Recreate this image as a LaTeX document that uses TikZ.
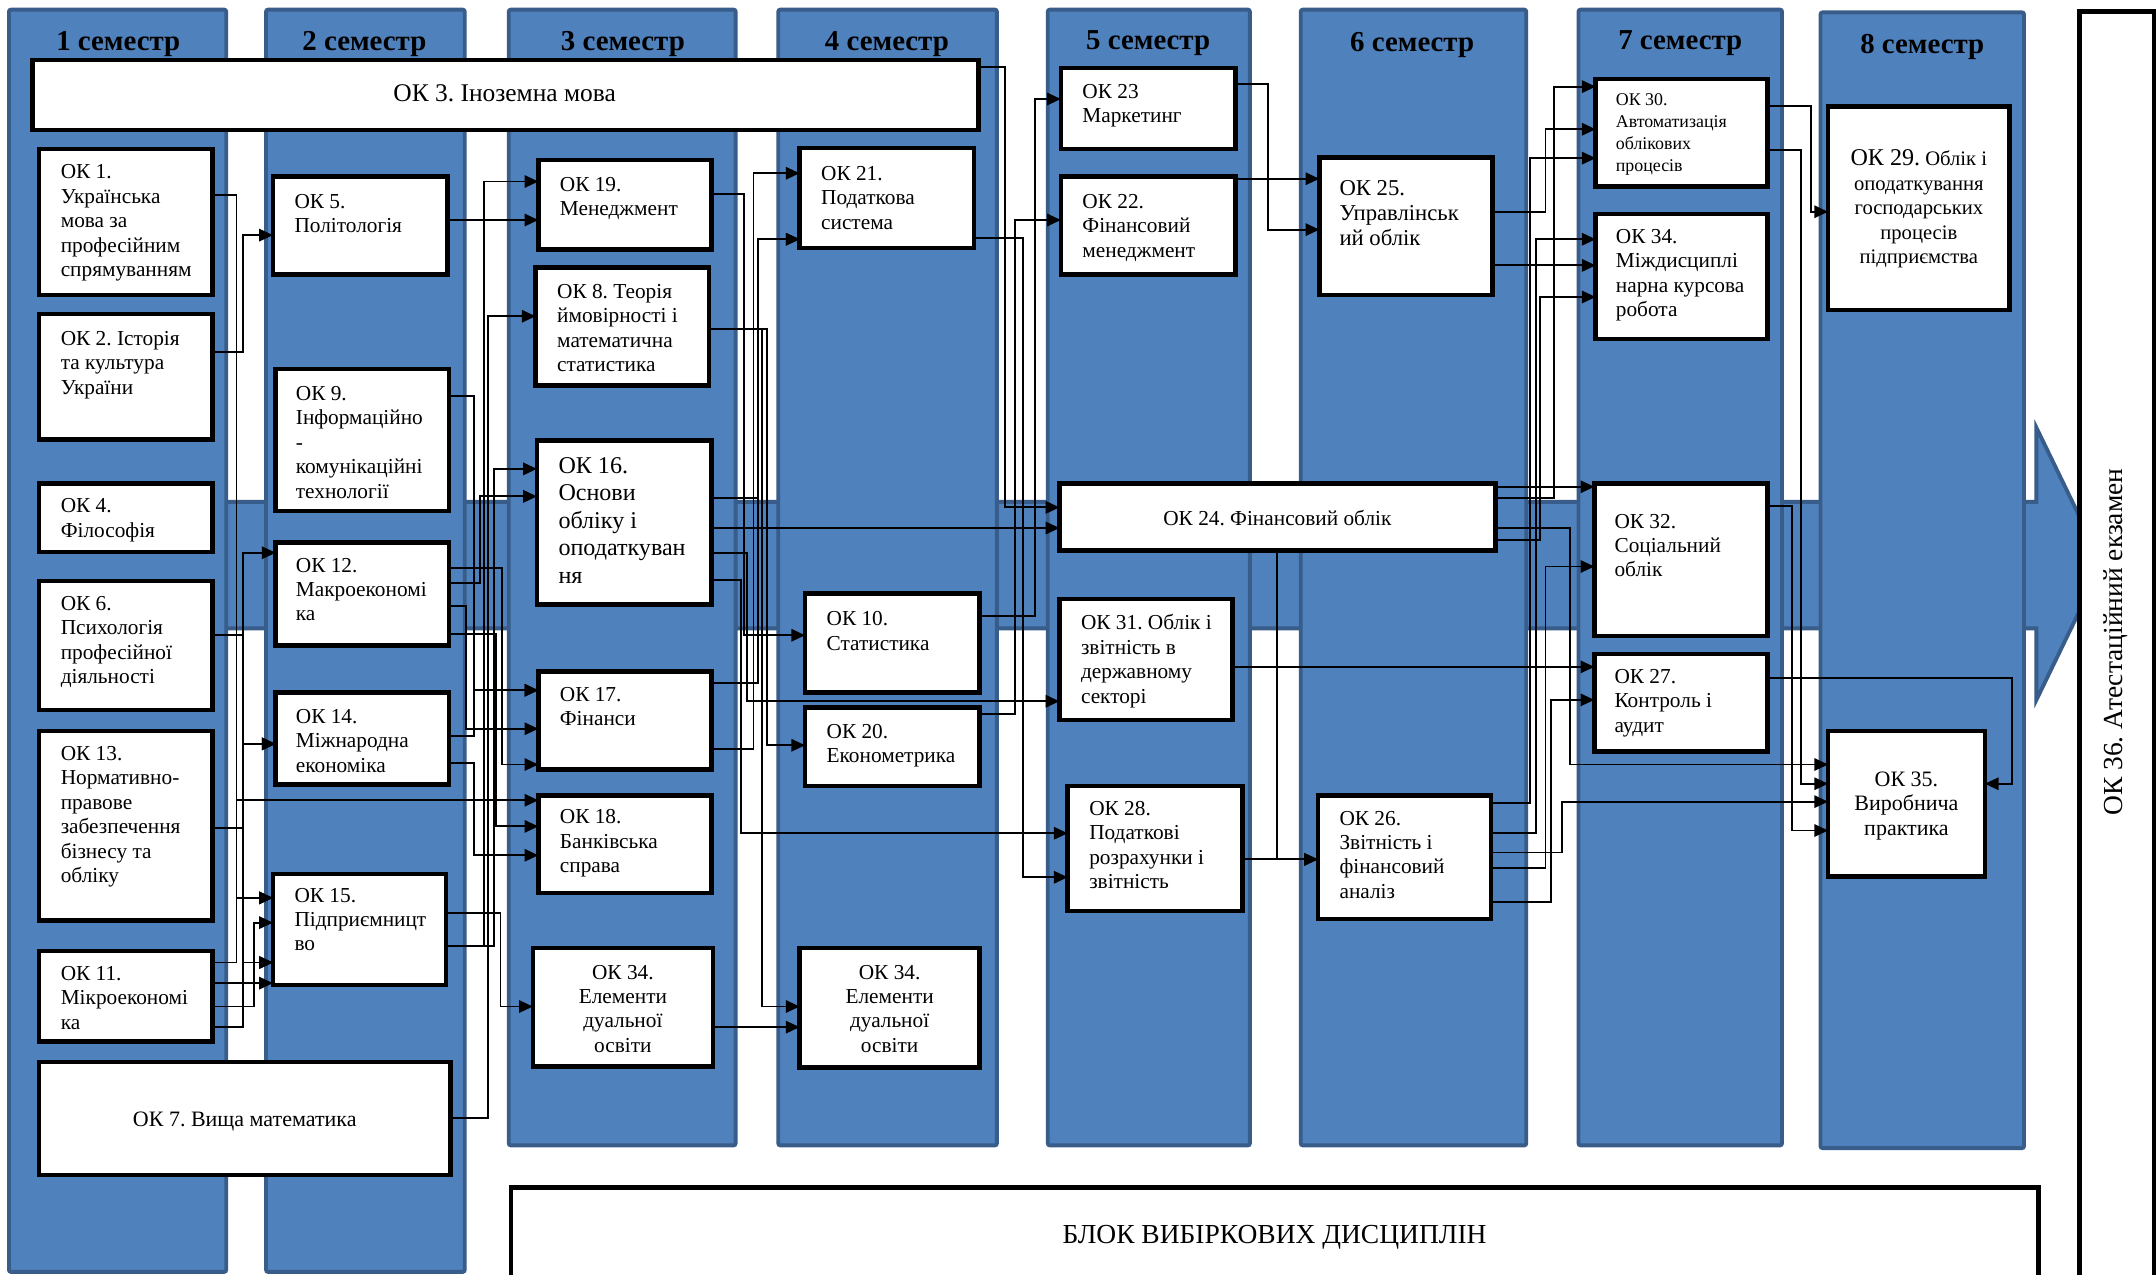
\documentclass[tikz,border=0pt]{standalone}
\usepackage{fontspec}
\setmainfont{Liberation Serif}
\frenchspacing
\usetikzlibrary{arrows.meta}
\definecolor{colfill}{HTML}{4F81BD}
\definecolor{colline}{HTML}{385D8A}
\tikzset{
  col/.style={fill=colfill, draw=colline, line width=2.8pt, rounded corners=1.5pt},
  box/.style={draw=black, fill=white, line width=3.3pt, inner sep=0pt, outer sep=0pt},
  txt/.style={inner sep=0pt, font=\fontsize{15.5}{17.8}\selectfont, anchor=base west},
  ctxt/.style={inner sep=0pt, font=\fontsize{15.5}{17.8}\selectfont, anchor=base},
  hdr/.style={inner sep=0pt, font=\fontsize{21}{24}\selectfont\bfseries, anchor=base},
  conn/.style={line width=1.4pt, draw=black},
  arr/.style={conn, -{Triangle[length=10pt,width=9pt]}},
}
\newcommand{\mkbox}[5]{\node[box, anchor=north west, minimum width={#4-#2}, minimum height={#5-#3}] (#1) at (#2,#3) {};}
\newcommand{\mktxt}[5][]{\node[txt,#1] (#2) at (#3,#4) {\parbox[t]{220pt}{\raggedright #5}};}
\newcommand{\mkctxt}[6][]{\node[ctxt,#1] (#2) at (#3,#4) {\parbox[t]{#5pt}{\centering #6}};}
\begin{document}
\begin{tikzpicture}[x=1pt,y=-1pt]
\useasboundingbox (0,0) rectangle (1568,927);
\fill[white] (0,0) rectangle (1568,927);
% big arrow band
\filldraw[fill=colfill, draw=colline, line width=2.8pt] (7,365) -- (1481,365) -- (1481,311) -- (1529,410) -- (1481,509) -- (1481,457) -- (7,457) -- cycle;
% semester columns
\draw[col] (6.5,7) rectangle (164.5,925);
\draw[col] (193.5,7) rectangle (338,925);
\draw[col] (370,7) rectangle (535,833);
\draw[col] (566,7) rectangle (725,833);
\draw[col] (762,7) rectangle (909,833);
\draw[col] (946,7) rectangle (1110,833);
\draw[col] (1148,7) rectangle (1296,833);
\draw[col] (1324,9) rectangle (1472,835);
% headers
\node[hdr] (h1) at (86,37) {1 семестр};
\node[hdr] (h2) at (265,37) {2 семестр};
\node[hdr] (h3) at (453,37) {3 семестр};
\node[hdr] (h4) at (645,37) {4 семестр};
\node[hdr] (h5) at (835,36) {5 семестр};
\node[hdr] (h6) at (1027,37.5) {6 семестр};
\node[hdr] (h7) at (1222,36) {7 семестр};
\node[hdr] (h8) at (1398,39) {8 семестр};
% boxes
\mkbox{ok3}{23.5}{43.5}{711.5}{94.5}
\node[inner sep=0pt, anchor=base, font=\fontsize{18.5}{20}\selectfont] (ok3t) at (367,74) {ОК 3. Іноземна мова};
\mkbox{ok1}{28.5}{108.5}{154.5}{214.5}
\mktxt{ok1t}{44}{130}{ОК 1.\\Українська\\мова за\\професійним\\спрямуванням}
\mkbox{ok2}{28.5}{228.5}{154.5}{319.5}
\mktxt{ok2t}{44}{251}{ОК 2. Історія\\та культура\\України}
\mkbox{ok4}{28.5}{351.5}{154.5}{401.5}
\mktxt{ok4t}{44}{373}{ОК 4.\\Філософія}
\mkbox{ok6}{28.5}{422.5}{154.5}{516.5}
\mktxt{ok6t}{44}{444}{ОК 6.\\Психологія\\професійної\\діяльності}
\mkbox{ok13}{28.5}{531.5}{154.5}{669.5}
\mktxt{ok13t}{44}{553}{ОК 13.\\Нормативно-\\правове\\забезпечення\\бізнесу та\\обліку}
\mkbox{ok11}{28.5}{691.5}{154.5}{757.5}
\mktxt{ok11t}{44}{713}{ОК 11.\\Мікроекономі\\ка}
\mkbox{ok7}{28.5}{772.5}{327.5}{854.5}
\node[inner sep=0pt, anchor=base, font=\fontsize{16}{18}\selectfont] (ok7t) at (178,819) {ОК 7. Вища математика};
\mkbox{ok5}{198.5}{128.5}{325.5}{199.5}
\mktxt{ok5t}{214}{151.5}{ОК 5.\\Політологія}
\mkbox{ok9}{200.5}{268.5}{326.5}{371.5}
\mktxt{ok9t}{215}{291}{ОК 9.\\Інформаційно\\-\\комунікаційні\\технології}
\mkbox{ok12}{200.5}{394.5}{326.5}{469.5}
\mktxt{ok12t}{215}{416}{ОК 12.\\Макроекономі\\ка}
\mkbox{ok14}{200.5}{503.5}{326.5}{570.5}
\mktxt{ok14t}{215}{526}{ОК 14.\\Міжнародна\\економіка}
\mkbox{ok15}{198.5}{635.5}{324.5}{716.5}
\mktxt{ok15t}{214}{656}{ОК 15.\\Підприємницт\\во}
\mkbox{ok19}{391.5}{116.5}{517.5}{181.5}
\mktxt{ok19t}{407}{139}{ОК 19.\\Менеджмент}
\mkbox{ok8}{389.5}{194.5}{515.5}{280.5}
\mktxt{ok8t}{405}{217}{ОК 8. Теорія\\ймовірності і\\математична\\статистика}
\mkbox{ok16}{390.5}{320.5}{517.5}{439.5}
\mktxt[font=\fontsize{17.5}{20}\selectfont]{ok16t}{406}{344}{ОК 16.\\Основи\\обліку і\\оподаткуван\\ня}
\mkbox{ok17}{391.5}{488.5}{517.5}{559.5}
\mktxt{ok17t}{407}{510}{ОК 17.\\Фінанси}
\mkbox{ok18}{391.5}{578.5}{517.5}{649.5}
\mktxt{ok18t}{407}{599}{ОК 18.\\Банківська\\справа}
\mkbox{ok34a}{387.5}{689.5}{518.5}{775.5}
\mkctxt{ok34at}{453}{712}{130}{ОК 34.\\Елементи\\дуальної\\освіти}
\mkbox{ok21}{581.5}{107.5}{708.5}{180.5}
\mktxt{ok21t}{597}{131}{ОК 21.\\Податкова\\система}
\mkbox{ok10}{585.5}{431.5}{712.5}{503.5}
\mktxt{ok10t}{601}{455}{ОК 10.\\Статистика}
\mkbox{ok20}{585.5}{514.5}{712.5}{571.5}
\mktxt{ok20t}{601}{537}{ОК 20.\\Економетрика}
\mkbox{ok34b}{581.5}{689.5}{712.5}{776.5}
\mkctxt{ok34bt}{647}{712}{130}{ОК 34.\\Елементи\\дуальної\\освіти}
\mkbox{ok23}{771.5}{49.5}{898.5}{108.5}
\mktxt{ok23t}{787}{71.5}{ОК 23\\Маркетинг}
\mkbox{ok22}{771.5}{128.5}{898.5}{199.5}
\mktxt{ok22t}{787}{151.5}{ОК 22.\\Фінансовий\\менеджмент}
\mkbox{ok25}{959.5}{114.5}{1085.5}{214.5}
\mktxt[font=\fontsize{16.5}{18.2}\selectfont]{ok25t}{974}{142}{ОК 25.\\Управлінськ\\ий облік}
\mkbox{ok24}{770.5}{351.5}{1087.5}{400.5}
\node[inner sep=0pt, anchor=base, font=\fontsize{15.5}{18}\selectfont] (ok24t) at (929,382) {ОК 24. Фінансовий облік};
\mkbox{ok31}{770.5}{435.5}{896.5}{523.5}
\mktxt{ok31t}{786}{458}{ОК 31. Облік і\\звітність в\\державному\\секторі}
\mkbox{ok28}{776.5}{571.5}{903.5}{662.5}
\mktxt{ok28t}{792}{593}{ОК 28.\\Податкові\\розрахунки і\\звітність}
\mkbox{ok26}{958.5}{578.5}{1084.5}{668.5}
\mktxt{ok26t}{974}{600}{ОК 26.\\Звітність і\\фінансовий\\аналіз}
\mkbox{ok30}{1160.5}{57.5}{1285.5}{135.5}
\mktxt[font=\fontsize{13}{15.8}\selectfont]{ok30t}{1175}{77}{ОК 30.\\Автоматизація\\облікових\\процесів}
\mkbox{ok34c}{1160.5}{155.5}{1285.5}{246.5}
\mktxt{ok34ct}{1175}{177}{ОК 34.\\Міждисциплі\\нарна курсова\\робота}
\mkbox{ok29}{1329.5}{77.5}{1461.5}{225.5}
\mkctxt[font=\fontsize{15}{17.8}\selectfont]{ok29t}{1395.5}{120.5}{132}{{\fontsize{17.5}{17.8}\selectfont ОК 29.} Облік і\\оподаткування\\господарських\\процесів\\підприємства}
\mkbox{ok32}{1159.5}{351.5}{1285.5}{462.5}
\mktxt{ok32t}{1174}{384}{ОК 32.\\Соціальний\\облік}
\mkbox{ok27}{1159.5}{475.5}{1285.5}{546.5}
\mktxt{ok27t}{1174}{497}{ОК 27.\\Контроль і\\аудит}
\mkbox{ok35}{1329.5}{531.5}{1443.5}{637.5}
\mkctxt[font=\fontsize{16}{17.8}\selectfont]{ok35t}{1386.5}{572}{114}{ОК 35.\\Виробнича\\практика}
\mkbox{ok36}{1512.5}{8.5}{1566.5}{940}
\node[inner sep=0pt, rotate=90, font=\fontsize{20}{24}\selectfont] (ok36t) at (1538.5,467) {ОК 36. Атестаційний екзамен};
\mkbox{blok}{371.5}{863.5}{1482.5}{945}
\node[inner sep=0pt, anchor=base, font=\fontsize{20}{24}\selectfont] (blokt) at (927,904) {БЛОК ВИБІРКОВИХ ДИСЦИПЛІН};
% ---------- connectors ----------
% semester 1 -> 2
\draw[arr] (ok1.east|-0,142) -| (172,653) -- (ok15.west|-0,653);
\draw[arr] (ok1.east|-0,142) -| (172,582) -- (ok18.west|-0,582);
\draw[arr] (ok11.east|-0,700) -| (172,653) -- (ok15.west|-0,653);
\draw[arr] (ok2.east|-0,256) -| (177,171) -- (ok5.west|-0,171);
\draw[arr] (ok6.east|-0,462) -| (177,402) -- (ok12.west|-0,402);
\draw[arr] (ok6.east|-0,462) -| (177,541) -- (ok14.west|-0,541);
\draw[arr] (ok13.east|-0,602) -| (177,541) -- (ok14.west|-0,541);
\draw[arr] (ok13.east|-0,602) -| (177,700) -- (ok15.west|-0,700);
\draw[arr] (ok11.east|-0,747) -| (177,700) -- (ok15.west|-0,700);
\draw[arr] (ok11.east|-0,715) -- (ok15.west|-0,715);
\draw[arr] (ok11.east|-0,732) -| (185,671) -- (ok15.west|-0,671);
% semester 2 -> 3
\draw[arr] (ok5.east|-0,160) -- (ok19.west|-0,160);
\draw[arr] (ok9.east|-0,288) -| (345,502) -- (ok17.west|-0,502);
\draw[arr] (ok14.east|-0,535) -| (345,502) -- (ok17.west|-0,502);
\draw[arr] (ok14.east|-0,555) -| (345,622) -- (ok18.west|-0,622);
\draw[arr] (ok12.east|-0,413) -| (365,556) -- (ok17.west|-0,556);
\draw[arr] (ok12.east|-0,424) -| (349,361) -- (ok16.west|-0,361);
\draw[arr] (ok12.east|-0,441) -| (339,530) -- (ok17.west|-0,530);
\draw[arr] (ok12.east|-0,461) -| (361,601) -- (ok18.west|-0,601);
\draw[arr] (ok15.east|-0,664) -| (364,732) -- (ok34a.west|-0,732);
\draw[arr] (ok15.east|-0,688) -| (359,341) -- (ok16.west|-0,341);
\draw[arr] (ok15.east|-0,688) -| (352,132) -- (ok19.west|-0,132);
\draw[arr] (ok7.east|-0,813) -| (355,230) -- (ok8.west|-0,230);
% semester 3 -> 4
\draw[arr] (ok19.east|-0,141) -| (541,462) -- (ok10.west|-0,462);
\draw[arr] (ok8.east|-0,239) -| (558,542) -- (ok20.west|-0,542);
\draw[arr] (ok8.east|-0,239) -| (554,732) -- (ok34b.west|-0,732);
\draw[arr] (ok17.east|-0,545) -| (548,126) -- (ok21.west|-0,126);
\draw[arr] (ok17.east|-0,497) -| (551,174) -- (ok21.west|-0,174);
\draw[arr] (ok16.east|-0,362) -| (551,174) -- (ok21.west|-0,174);
\draw[arr] (ok16.east|-0,384) -- (ok24.west|-0,384);
\draw[arr] (ok16.east|-0,402) -| (543,510) -- (ok31.west|-0,510);
\draw[arr] (ok16.east|-0,422) -| (539,606) -- (ok28.west|-0,606);
\draw[arr] (ok34a.east|-0,747) -- (ok34b.west|-0,747);
% semester 4 -> 5
\draw[arr] (ok3.east|-0,49) -| (731,369) -- (ok24.west|-0,369);
\draw[arr] (ok21.east|-0,173) -| (744,638) -- (ok28.west|-0,638);
\draw[arr] (ok10.east|-0,448) -| (753,72) -- (ok23.west|-0,72);
\draw[arr] (ok20.east|-0,519) -| (738,160) -- (ok22.west|-0,160);
% semester 5 -> 6
\draw[arr] (ok23.east|-0,61) -| (922,167) -- (ok25.west|-0,167);
\draw[arr] (ok22.east|-0,130) -- (ok25.west|-0,130);
\draw[arr] (ok24.south) |- (ok26.west|-0,625);
\draw[arr] (ok28.east|-0,625) -- (ok26.west|-0,625);
% semester 6 -> 7
\draw[arr] (ok25.east|-0,154) -| (1124,94) -- (ok30.west|-0,94);
\draw[arr] (ok25.east|-0,193) -- (ok34c.west|-0,193);
\draw[arr] (ok24.east|-0,354) -- (ok32.west|-0,354);
\draw[arr] (ok24.east|-0,362) -| (1130,63) -- (ok30.west|-0,63);
\draw[arr] (ok24.east|-0,384) -| (1142,556) -- (ok35.west|-0,556);
\draw[arr] (ok24.east|-0,393) -| (1120,216) -- (ok34c.west|-0,216);
\draw[arr] (ok31.east|-0,485) -- (ok27.west|-0,485);
\draw[arr] (ok26.east|-0,584) -| (1113,115) -- (ok30.west|-0,115);
\draw[arr] (ok26.east|-0,606) -| (1117,174) -- (ok34c.west|-0,174);
\draw[arr] (ok26.east|-0,620) -| (1136,583) -- (ok35.west|-0,583);
\draw[arr] (ok26.east|-0,631) -| (1124,412) -- (ok32.west|-0,412);
\draw[arr] (ok26.east|-0,656) -| (1128,509) -- (ok27.west|-0,509);
% semester 7 -> 8
\draw[arr] (ok30.east|-0,77) -| (1317,154) -- (ok29.west|-0,154);
\draw[arr] (ok30.east|-0,109) -| (1310,570) -- (ok35.west|-0,570);
\draw[arr] (ok32.east|-0,368) -| (1303,604) -- (ok35.west|-0,604);
\draw[arr] (ok27.east|-0,493) -| (1463,570) -- (ok35.east|-0,570);
\end{tikzpicture}
\end{document}
